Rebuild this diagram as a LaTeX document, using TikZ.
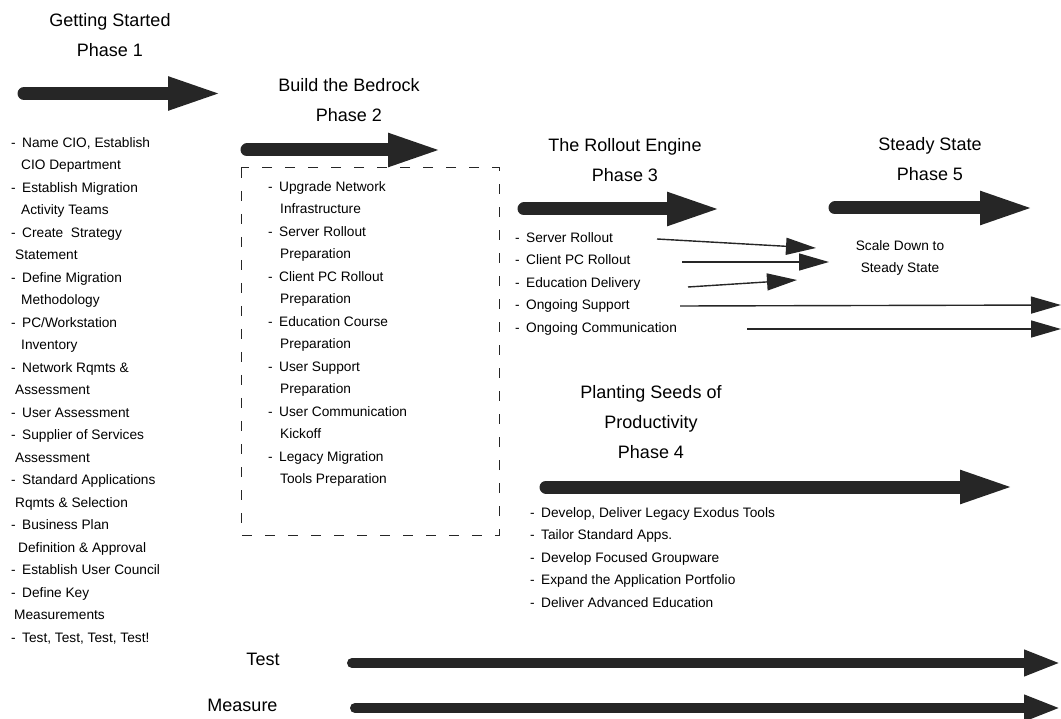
\documentclass[tikz,border=0pt]{standalone}
\usepackage{fontspec}
\setmainfont{Liberation Sans}
\usetikzlibrary{arrows.meta}
\definecolor{ink}{gray}{0.15}
\newcommand{\itm}{-\hspace{0.47em}}
\newcommand{\cnt}[1]{\hspace*{#1pt}}
\begin{document}
\begin{tikzpicture}[x=1pt,y=-1pt,
  title/.style={font=\fontsize{18}{30}\selectfont, align=center, inner sep=0pt, anchor=north},
  list/.style={font=\fontsize{13.7}{22.5}\selectfont, align=left, inner sep=0pt, anchor=north west},
  label/.style={font=\fontsize{18}{22}\selectfont, inner sep=0pt, anchor=base},
  bigarrow/.style={draw=ink, line width=13pt, line cap=round, -{Triangle[length=55pt,width=30pt]}},
  trackarrow/.style={draw=ink, line width=10pt, line cap=round, -{Triangle[length=37pt,width=24pt]}},
  thinarrow/.style={draw=ink, line width=1.4pt, -{Triangle[length=30pt,width=17pt]}},
  dashbox/.style={draw=ink, line width=1pt, dash pattern=on 10pt off 13pt},
]
\useasboundingbox (0,0) rectangle (1061,719);

% titles
\node[title] (t1) at (110,12.8) {Getting Started\\Phase 1};
\node[title] (t2) at (349,77.8) {Build the Bedrock\\Phase 2};
\node[title] (t3) at (625,138.3) {The Rollout Engine\\Phase 3};
\node[title] (t5) at (930,136.8) {Steady State\\Phase 5};
\node[title] (t4) at (651,384.8) {Planting Seeds of\\Productivity\\Phase 4};

% phase arrows
\coordinate (a1s) at (24,93.5);  \coordinate (a1e) at (223,93.5);
\coordinate (a2s) at (247,150);  \coordinate (a2e) at (443,150);
\coordinate (a3s) at (524,209);  \coordinate (a3e) at (722,209);
\coordinate (a5s) at (835,208);  \coordinate (a5e) at (1035,208);
\coordinate (a4s) at (546,487);  \coordinate (a4e) at (1015,487);
\draw[bigarrow] (a1s) -- (a1e);
\draw[bigarrow] (a2s) -- (a2e);
\draw[bigarrow] (a3s) -- (a3e);
\draw[bigarrow] (a5s) -- (a5e);
\draw[bigarrow] (a4s) -- (a4e);

% phase 1 list
\node[list] (l1) at (11,137) {\itm Name CIO, Establish\\
\cnt{10}CIO Department\\
\itm Establish Migration\\
\cnt{10}Activity Teams\\
\itm Create\ \ Strategy\\
\cnt{4}Statement\\
\itm Define Migration\\
\cnt{10}Methodology\\
\itm PC/Workstation\\
\cnt{10}Inventory\\
\itm Network Rqmts \&\\
\cnt{4}Assessment\\
\itm User Assessment\\
\itm Supplier of Services\\
\cnt{4}Assessment\\
\itm Standard Applications\\
\cnt{4}Rqmts \& Selection\\
\itm Business Plan\\
\cnt{7}Definition \& Approval\\
\itm Establish User Council\\
\itm Define Key\\
\cnt{3}Measurements\\
\itm Test, Test, Test, Test!};

% phase 2 box and list
\draw[dashbox] (241,168) rectangle (499,535);
\node[list] (l2) at (268,181) {\itm Upgrade Network\\
\cnt{12}Infrastructure\\
\itm Server Rollout\\
\cnt{12}Preparation\\
\itm Client PC Rollout\\
\cnt{12}Preparation\\
\itm Education Course\\
\cnt{12}Preparation\\
\itm User Support\\
\cnt{12}Preparation\\
\itm User Communication\\
\cnt{12}Kickoff\\
\itm Legacy Migration\\
\cnt{12}Tools Preparation};

% phase 3 list
\node[list] (l3) at (515,232) {\itm Server Rollout\\
\itm Client PC Rollout\\
\itm Education Delivery\\
\itm Ongoing Support\\
\itm Ongoing Communication};

% phase 5 label
\node[list, anchor=north, align=center] (sd) at (900,240) {Scale Down to\\Steady State};

% thin arrows
\coordinate (r1s) at (657,239);  \coordinate (r1e) at (816,248);
\coordinate (r2s) at (682,262);  \coordinate (r2e) at (829,262);
\coordinate (r3s) at (688,287);  \coordinate (r3e) at (797,280);
\coordinate (r4s) at (680,306);  \coordinate (r4e) at (1061,305);
\coordinate (r5s) at (747,329);  \coordinate (r5e) at (1061,329);
\draw[thinarrow] (r1s) -- (r1e);
\draw[thinarrow] (r2s) -- (r2e);
\draw[thinarrow] (r3s) -- (r3e);
\draw[thinarrow] (r4s) -- (r4e);
\draw[thinarrow] (r5s) -- (r5e);

% phase 4 list
\node[list] (l4) at (530,507) {\itm Develop, Deliver Legacy Exodus Tools\\
\itm Tailor Standard Apps.\\
\itm Develop Focused Groupware\\
\itm Expand the Application Portfolio\\
\itm Deliver Advanced Education};

% test and measure
\node[label] (test) at (263,665) {Test};
\node[label] (meas) at (242.5,711) {Measure};
\coordinate (ts) at (352,663);  \coordinate (te) at (1061,663);
\coordinate (ms) at (355,708);  \coordinate (me) at (1061,708);
\draw[trackarrow] (ts) -- (te);
\draw[trackarrow] (ms) -- (me);
\end{tikzpicture}
\end{document}
